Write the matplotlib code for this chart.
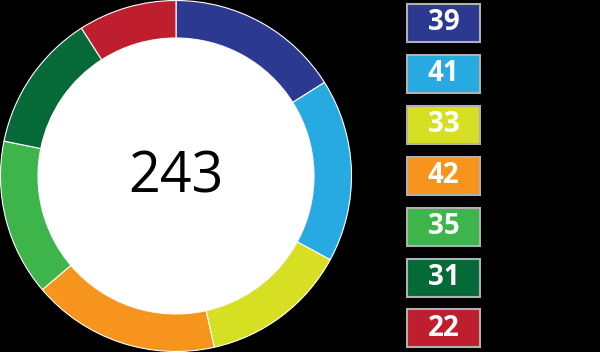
import matplotlib
matplotlib.use("Agg")
import matplotlib.pyplot as plt
from matplotlib.patches import Rectangle, Circle

values = [39, 41, 33, 42, 35, 31, 22]
colors = ["#2b3990", "#27aae1", "#d7df23", "#f7941d", "#3db54a", "#056938", "#be1e2d"]
total_label = str(sum(values))

plt.rcParams['font.family'] = ['Open Sans', 'DejaVu Sans']

fig = plt.figure(figsize=(6, 3.52), dpi=100, facecolor="black")
ax = fig.add_axes([0, 0, 1, 1])
ax.set_facecolor("black")

# donut, pixel coordinates
cx, cy, r_out, r_in = 176, 176, 175.5, 138
ax.pie(values, colors=colors, startangle=90, counterclock=False,
       center=(cx, cy), radius=r_out,
       wedgeprops=dict(width=r_out - r_in, edgecolor="white", linewidth=0.8))
ax.add_patch(Circle((cx, cy), r_in, facecolor="white", edgecolor="none", zorder=5))
ax.text(cx, cy - 2, total_label, ha="center", va="center", fontsize=40,
        color="black", zorder=6)

# legend boxes
box_x, box_w, box_h = 407, 73, 38
top = 4
step = 50.9
for i, (v, c) in enumerate(zip(values, colors)):
    y_top = top + i * step
    y0 = 352 - y_top - box_h
    ax.add_patch(Rectangle((box_x, y0), box_w, box_h, facecolor=c,
                           edgecolor="#b0b0b0", linewidth=1.5, zorder=5))
    ax.text(box_x + box_w / 2, y0 + box_h / 2, str(v), ha="center", va="center",
            fontsize=20, fontweight="bold", color="white", zorder=6)

ax.set_xlim(0, 600)
ax.set_ylim(0, 352)
ax.set_aspect("auto")
ax.axis("off")

fig.savefig("out.png", dpi=100, facecolor="black")
